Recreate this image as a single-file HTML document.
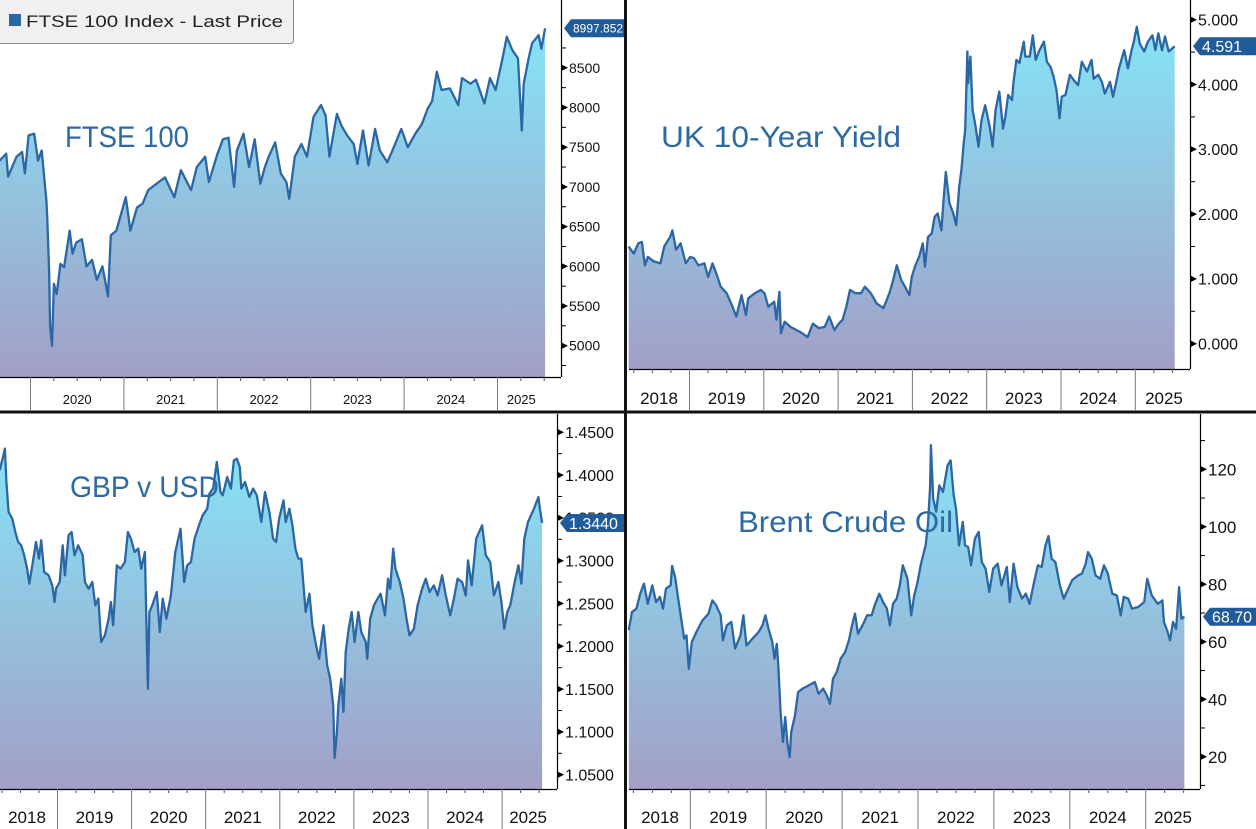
<!DOCTYPE html>
<html><head><meta charset="utf-8"><style>
html,body{margin:0;padding:0;background:#fff;}
svg{display:block;font-family:"Liberation Sans",sans-serif;}
</style></head><body>
<svg id="c" width="1256" height="829" viewBox="0 0 1256 829" xmlns="http://www.w3.org/2000/svg">
<defs>
<linearGradient id="g" x1="0" y1="0" x2="0" y2="1"><stop offset="0" stop-color="#86e4f6"/><stop offset="1" stop-color="#a29fc7"/></linearGradient>
</defs>
</svg>
<script>
// FTSE 100
const ftseDates=[2019.67,2019.74,2019.76,2019.85,2019.91,2019.94,2019.98,2020.04,2020.08,2020.12,2020.15,2020.17,2020.18,2020.20,2020.21,2020.23,2020.25,2020.28,2020.32,2020.36,2020.42,2020.45,2020.49,2020.55,2020.60,2020.66,2020.71,2020.77,2020.81,2020.83,2020.86,2020.92,2020.96,2021.02,2021.07,2021.14,2021.20,2021.26,2021.35,2021.44,2021.54,2021.61,2021.72,2021.78,2021.87,2021.91,2022.00,2022.06,2022.12,2022.18,2022.21,2022.28,2022.34,2022.40,2022.46,2022.51,2022.55,2022.62,2022.68,2022.74,2022.77,2022.83,2022.90,2022.96,2023.03,2023.11,2023.16,2023.20,2023.28,2023.33,2023.39,2023.46,2023.50,2023.56,2023.62,2023.69,2023.74,2023.82,2023.89,2023.97,2024.04,2024.12,2024.19,2024.25,2024.30,2024.35,2024.40,2024.49,2024.58,2024.62,2024.71,2024.77,2024.86,2024.92,2024.98,2025.05,2025.10,2025.16,2025.22,2025.26,2025.28,2025.33,2025.37,2025.44,2025.47,2025.51];
const ftseValues=[7330,7420,7130,7380,7440,7170,7650,7670,7330,7460,7080,6830,6600,5900,5240,5000,5780,5650,6030,5990,6450,6160,6300,6340,6000,6080,5830,6000,5750,5620,6390,6450,6620,6870,6450,6740,6790,6960,7040,7120,6870,7210,6960,7250,7380,7060,7410,7600,7620,7000,7460,7670,7250,7600,7040,7250,7380,7560,7170,7060,6850,7380,7540,7380,7880,8030,7900,7380,7920,7770,7650,7540,7290,7710,7270,7730,7460,7310,7500,7730,7500,7670,7790,7980,8080,8450,8220,8240,8030,8370,8300,8350,8050,8370,8220,8600,8890,8720,8620,7710,8300,8600,8810,8910,8740,8998];
const ftseTicks=[5000,5500,6000,6500,7000,7500,8000,8500];
const ftseYears=[2020,2021,2022,2023,2024,2025];

// UK 10-year yield
const giltDates=[2018.18,2018.25,2018.31,2018.36,2018.40,2018.44,2018.52,2018.61,2018.66,2018.74,2018.77,2018.82,2018.88,2018.95,2019.01,2019.06,2019.12,2019.20,2019.25,2019.31,2019.36,2019.42,2019.50,2019.58,2019.63,2019.70,2019.76,2019.79,2019.88,2019.96,2020.01,2020.06,2020.14,2020.17,2020.21,2020.23,2020.28,2020.36,2020.44,2020.52,2020.59,2020.66,2020.74,2020.82,2020.88,2020.95,2021.01,2021.06,2021.11,2021.16,2021.23,2021.31,2021.36,2021.44,2021.52,2021.61,2021.69,2021.74,2021.79,2021.85,2021.90,2021.96,2021.99,2022.04,2022.09,2022.14,2022.17,2022.21,2022.26,2022.30,2022.34,2022.39,2022.42,2022.45,2022.50,2022.55,2022.59,2022.63,2022.66,2022.69,2022.71,2022.74,2022.75,2022.78,2022.81,2022.85,2022.89,2022.93,2022.98,2023.04,2023.08,2023.12,2023.17,2023.22,2023.25,2023.29,2023.34,2023.36,2023.40,2023.44,2023.50,2023.52,2023.58,2023.62,2023.66,2023.71,2023.77,2023.81,2023.86,2023.90,2023.94,2023.98,2024.01,2024.06,2024.12,2024.17,2024.23,2024.28,2024.35,2024.41,2024.44,2024.50,2024.55,2024.59,2024.66,2024.70,2024.74,2024.78,2024.85,2024.90,2024.95,2024.98,2025.02,2025.06,2025.12,2025.17,2025.23,2025.27,2025.31,2025.36,2025.40,2025.45,2025.50,2025.53];
const giltValues=[1.50,1.39,1.55,1.57,1.21,1.34,1.27,1.24,1.50,1.65,1.75,1.45,1.55,1.24,1.34,1.32,1.21,1.24,1.03,1.24,1.09,0.88,0.78,0.57,0.42,0.75,0.44,0.70,0.78,0.83,0.78,0.57,0.65,0.37,0.80,0.16,0.34,0.26,0.21,0.16,0.10,0.31,0.24,0.26,0.42,0.21,0.31,0.37,0.57,0.83,0.78,0.78,0.88,0.78,0.62,0.55,0.78,0.98,1.21,0.98,0.88,0.75,1.03,1.21,1.34,1.55,1.19,1.65,1.70,1.96,2.01,1.75,2.22,2.65,2.17,2.01,1.83,2.42,2.68,3.09,3.30,4.51,4.02,4.43,3.61,3.35,3.04,3.45,3.68,3.35,3.04,3.61,3.89,3.32,3.50,3.84,3.76,4.02,4.38,4.33,4.66,4.43,4.43,4.76,4.38,4.53,4.66,4.35,4.27,4.12,3.91,3.48,3.81,3.84,4.15,4.07,3.99,4.35,4.20,4.38,4.09,4.15,4.04,3.86,4.04,3.81,4.02,4.25,4.53,4.25,4.53,4.66,4.89,4.63,4.51,4.66,4.76,4.53,4.79,4.53,4.74,4.51,4.56,4.59];
const giltTicks=[0,1,2,3,4,5];
const giltYears=[2018,2019,2020,2021,2022,2023,2024,2025];

// GBP v USD
const gbpDates=[2018.22,2018.27,2018.29,2018.31,2018.34,2018.39,2018.43,2018.47,2018.51,2018.55,2018.59,2018.62,2018.66,2018.71,2018.75,2018.78,2018.82,2018.88,2018.93,2018.96,2018.98,2019.03,2019.07,2019.10,2019.15,2019.19,2019.23,2019.28,2019.34,2019.37,2019.42,2019.47,2019.51,2019.55,2019.59,2019.64,2019.69,2019.72,2019.75,2019.80,2019.85,2019.91,2019.95,2019.99,2020.04,2020.09,2020.13,2020.18,2020.20,2020.22,2020.24,2020.28,2020.34,2020.38,2020.42,2020.47,2020.53,2020.59,2020.66,2020.71,2020.75,2020.80,2020.85,2020.91,2020.96,2021.02,2021.05,2021.10,2021.15,2021.20,2021.23,2021.29,2021.34,2021.38,2021.42,2021.46,2021.48,2021.53,2021.59,2021.64,2021.69,2021.75,2021.80,2021.86,2021.91,2021.95,2021.99,2022.05,2022.08,2022.13,2022.17,2022.21,2022.25,2022.29,2022.32,2022.35,2022.40,2022.44,2022.49,2022.53,2022.59,2022.64,2022.68,2022.72,2022.74,2022.77,2022.79,2022.83,2022.86,2022.89,2022.93,2022.97,2023.01,2023.06,2023.10,2023.16,2023.18,2023.22,2023.27,2023.32,2023.36,2023.42,2023.46,2023.49,2023.53,2023.56,2023.62,2023.67,2023.71,2023.75,2023.81,2023.86,2023.92,2023.97,2024.02,2024.08,2024.13,2024.19,2024.24,2024.30,2024.35,2024.40,2024.46,2024.51,2024.54,2024.59,2024.65,2024.73,2024.78,2024.84,2024.89,2024.95,2024.99,2025.03,2025.07,2025.11,2025.16,2025.22,2025.26,2025.30,2025.35,2025.39,2025.43,2025.49,2025.51,2025.54];
const gbpValues=[1.4056,1.4231,1.4309,1.3920,1.3569,1.3491,1.3335,1.3219,1.3180,1.3063,1.2907,1.2732,1.2946,1.3219,1.3024,1.3238,1.2868,1.2829,1.2712,1.2518,1.2673,1.2751,1.3180,1.2829,1.3297,1.3335,1.3063,1.3180,1.3063,1.2751,1.2673,1.2751,1.2479,1.2557,1.2050,1.2128,1.2323,1.2518,1.2245,1.2946,1.2907,1.2985,1.3335,1.3258,1.3102,1.3141,1.2907,1.3102,1.2284,1.1505,1.2401,1.2479,1.2634,1.2167,1.2557,1.2323,1.2595,1.3102,1.3374,1.2751,1.2946,1.2985,1.3258,1.3413,1.3530,1.3608,1.3783,1.3842,1.4153,1.3803,1.3764,1.3978,1.3842,1.4173,1.4192,1.4095,1.3842,1.3920,1.3744,1.3842,1.3764,1.3452,1.3803,1.3569,1.3258,1.3219,1.3491,1.3705,1.3452,1.3608,1.3413,1.3141,1.3024,1.3024,1.2712,1.2401,1.2615,1.2245,1.2011,1.1855,1.2245,1.1777,1.1622,1.1310,1.0695,1.0999,1.1310,1.1622,1.1232,1.1933,1.2206,1.2401,1.2050,1.2401,1.2167,1.2050,1.1855,1.2323,1.2479,1.2557,1.2615,1.2362,1.2790,1.2673,1.3141,1.2907,1.2751,1.2557,1.2323,1.2128,1.2206,1.2479,1.2673,1.2790,1.2634,1.2712,1.2595,1.2829,1.2595,1.2362,1.2557,1.2790,1.2751,1.2595,1.3004,1.2712,1.3258,1.3413,1.3063,1.2985,1.2595,1.2751,1.2518,1.2206,1.2401,1.2479,1.2712,1.2946,1.2732,1.3258,1.3452,1.3530,1.3608,1.3744,1.3608,1.3440];
const gbpTicks=[1.05,1.10,1.15,1.20,1.25,1.30,1.35,1.40,1.45];
const gbpYears=[2018,2019,2020,2021,2022,2023,2024,2025];

// Brent crude
const brentDates=[2018.19,2018.23,2018.29,2018.34,2018.39,2018.44,2018.50,2018.55,2018.60,2018.64,2018.68,2018.74,2018.76,2018.80,2018.84,2018.88,2018.92,2018.95,2018.98,2019.02,2019.08,2019.16,2019.24,2019.29,2019.34,2019.40,2019.43,2019.48,2019.54,2019.59,2019.66,2019.70,2019.74,2019.82,2019.90,2019.95,2019.99,2020.03,2020.08,2020.11,2020.14,2020.16,2020.19,2020.22,2020.25,2020.28,2020.31,2020.33,2020.38,2020.42,2020.48,2020.56,2020.64,2020.69,2020.75,2020.80,2020.84,2020.88,2020.93,2020.98,2021.04,2021.09,2021.13,2021.17,2021.21,2021.28,2021.33,2021.39,2021.43,2021.49,2021.54,2021.59,2021.63,2021.67,2021.72,2021.76,2021.80,2021.86,2021.91,2021.95,2021.99,2022.04,2022.10,2022.13,2022.16,2022.17,2022.20,2022.24,2022.28,2022.33,2022.39,2022.43,2022.47,2022.50,2022.54,2022.59,2022.62,2022.66,2022.70,2022.75,2022.80,2022.84,2022.89,2022.94,2022.99,2023.05,2023.10,2023.17,2023.21,2023.26,2023.31,2023.37,2023.42,2023.47,2023.52,2023.58,2023.63,2023.68,2023.72,2023.76,2023.81,2023.87,2023.92,2023.97,2024.03,2024.11,2024.16,2024.21,2024.24,2024.29,2024.34,2024.40,2024.45,2024.50,2024.56,2024.62,2024.67,2024.71,2024.77,2024.82,2024.90,2024.98,2025.02,2025.08,2025.16,2025.22,2025.24,2025.29,2025.32,2025.36,2025.40,2025.44,2025.47,2025.51];
const brentValues=[64.0,70.3,71.5,76.7,80.2,73.2,79.6,73.8,75.6,71.5,78.5,79.6,86.4,82.5,75.0,68.0,61.1,62.2,50.6,59.9,63.4,67.4,69.8,74.4,72.7,69.2,60.5,65.7,66.9,57.6,62.2,69.2,58.7,61.1,63.4,65.7,69.2,64.5,59.9,54.1,59.3,51.8,35.5,25.1,33.8,24.5,19.9,28.6,34.4,42.5,43.7,44.8,46.0,41.9,43.7,41.3,38.4,47.1,49.5,54.1,56.4,60.5,65.7,69.8,62.8,66.3,69.2,69.2,72.7,76.7,73.8,71.5,65.7,73.2,75.0,79.6,86.6,82.0,69.2,76.1,80.2,87.2,93.5,100.5,113.9,128.4,109.8,105.2,114.4,112.1,121.4,123.1,111.0,106.3,93.5,101.7,93.5,93.0,86.6,95.9,98.2,87.7,85.4,77.3,85.4,87.2,79.6,86.0,73.8,87.2,79.0,75.0,76.7,73.2,79.6,86.6,86.0,93.5,96.8,88.9,87.7,79.6,75.0,77.9,81.4,83.1,83.7,87.2,91.2,88.9,83.1,81.9,86.6,83.7,76.7,76.1,69.2,75.6,75.0,71.5,72.1,73.8,81.9,76.1,73.2,74.4,66.9,63.4,60.5,66.9,64.5,79.0,68.0,68.7];
const brentTicks=[20,40,60,80,100,120];
const brentYears=[2018,2019,2020,2021,2022,2023,2024,2025];

const svg=document.getElementById('c');
const NS='http://www.w3.org/2000/svg';
function mk(tag,attrs,parent){const e=document.createElementNS(NS,tag);for(const k in attrs)e.setAttribute(k,attrs[k]);(parent||svg).appendChild(e);return e;}

function panel(cfg,dates,values,ticks,years){
  const g=mk('g',{});
  
  
  const X=y=>cfg.x0+(y-cfg.yr0)*cfg.yw;
  const Y=v=>cfg.vy0+(cfg.v0-v)*cfg.vk;
  let d='';
  for(let i=0;i<dates.length;i++){d+=(i?'L':'M')+X(dates[i]).toFixed(1)+' '+Y(values[i]).toFixed(1);}
  const area=mk('path',{d:d+'L'+X(dates[dates.length-1]).toFixed(1)+' '+cfg.bot+'L'+X(dates[0]).toFixed(1)+' '+cfg.bot+'Z',fill:'url(#g)'},g);
  
  
  const line=mk('path',{d:d,fill:'none',stroke:'#2b66a5','stroke-width':2.3,'stroke-linejoin':'round'},g);
  
  
  mk('line',{x1:cfg.left,x2:cfg.ax,y1:cfg.bot+0.5,y2:cfg.bot+0.5,stroke:'#000','stroke-width':1.2},g);
  mk('line',{x1:cfg.ax+0.5,x2:cfg.ax+0.5,y1:cfg.top,y2:cfg.bot,stroke:'#000','stroke-width':1.2},g);
  const step=ticks[1]-ticks[0];
  for(let i=0;i<ticks.length;i++){
    const ty=Y(ticks[i]);
    mk('path',{d:`M${cfg.ax+1} ${ty-3}L${cfg.ax+7} ${ty}L${cfg.ax+1} ${ty+3}Z`,fill:'#000'},g);
    const t=mk('text',{x:cfg.ax+8,y:ty+cfg.fs*0.36,'font-size':cfg.fs,fill:'#111'},g);
    t.textContent=ticks[i].toFixed(cfg.dec);
    
    
  }
  for(let v=ticks[0]-step/2;v<=ticks[ticks.length-1]+step;v+=step){
    const ty=Y(v); if(ty<cfg.top+2||ty>cfg.bot-2)continue;
    mk('line',{x1:cfg.ax,x2:cfg.ax+5,y1:ty,y2:ty,stroke:'#000','stroke-width':1},g);
  }
  for(let i=0;i<years.length;i++){
    const xs=X(years[i]), xe=X(years[i]+1);
    if(xs>cfg.left+2) mk('line',{x1:xs,x2:xs,y1:cfg.bot,y2:cfg.band,stroke:'#777','stroke-width':1},g);
    for(let q=1;q<4;q++){const xq=X(years[i]+q/4);if(xq>cfg.left&&xq<cfg.ax)mk('line',{x1:xq,x2:xq,y1:cfg.bot,y2:cfg.bot+4,stroke:'#555'},g);}
    let lx=(xs+Math.min(xe,cfg.ax))/2;
    if(i===years.length-1) lx=(xs+X(dates[dates.length-1]))/2+cfg.lastShift;
    if(i===0 && xs<cfg.left) lx=cfg.firstX;
    const t=mk('text',{x:lx,y:cfg.band-6,'font-size':cfg.yfs,'text-anchor':'middle',fill:'#111'},g);
    t.textContent=years[i];
    
    
  }
  const tt=mk('text',{x:cfg.tx,y:cfg.ty,'font-size':30,fill:'#2d6aa4',textLength:cfg.tl,lengthAdjust:'spacingAndGlyphs'},g);
  tt.textContent=cfg.title;
  
  
  const lv=values[values.length-1], ly=Y(lv), bx=cfg.ax+3;
  const tag=mk('path',{d:`M${bx} ${ly}L${bx+7} ${ly-9}L${cfg.tagR} ${ly-9}L${cfg.tagR} ${ly+9}L${bx+7} ${ly+9}Z`,fill:'#1f5c99'},g);
  
  
  const tv=mk('text',{x:bx+9,y:ly+cfg.vfs*0.36,'font-size':cfg.vfs,fill:'#fff'},g);
  tv.textContent=cfg.lastLabel;
  
  
}

panel({name:'ftse',left:0,top:0,bot:377,band:410,ax:561,x0:30.5,yr0:2020,yw:93.4,v0:5000,vy0:345.7,vk:39.7/500,fs:14,dec:0,yfs:13,lastShift:0,firstX:0,title:'FTSE 100',tx:65,ty:147,tl:124,tagR:626,vfs:12,lastLabel:'8997.852'},ftseDates,ftseValues,ftseTicks,ftseYears);
panel({name:'gilt',left:629,top:0,bot:369,band:410,ax:1190,x0:689.5,yr0:2019,yw:74.3,v0:0,vy0:343.7,vk:64.8,fs:16,dec:3,yfs:17,lastShift:9,firstX:659,title:'UK 10-Year Yield',tx:661,ty:147,tl:240,tagR:1256,vfs:16,lastLabel:'4.591'},giltDates,giltValues,giltTicks,giltYears);
panel({name:'gbp',left:0,top:414,bot:789,band:829,ax:557,x0:57.5,yr0:2019,yw:74.1,v0:1.45,vy0:432.3,vk:856,fs:16,dec:4,yfs:17,lastShift:6,firstX:27,title:'GBP v USD',tx:70,ty:497,tl:149,tagR:626,vfs:16,lastLabel:'1.3440'},gbpDates,gbpValues,gbpTicks,gbpYears);
panel({name:'brent',left:629,top:414,bot:789,band:829,ax:1200,x0:690.3,yr0:2019,yw:75.9,v0:120,vy0:469.3,vk:2.874,fs:17,dec:0,yfs:17,lastShift:8,firstX:660,title:'Brent Crude Oil',tx:738,ty:532,tl:215,tagR:1256,vfs:16,lastLabel:'68.70'},brentDates,brentValues,brentTicks,brentYears);

const dv=mk('rect',{x:624,y:0,width:3,height:829,fill:'#111'});


const dh=mk('rect',{x:0,y:410.5,width:1256,height:3,fill:'#111'});



const lg=mk('g',{});


mk('path',{d:'M-1 -1H293.5V40Q293.5 43.5 290 43.5H-1Z',fill:'#f0f0f0',stroke:'#8a8a8a','stroke-width':1},lg);
mk('rect',{x:9,y:14,width:12,height:12,fill:'#2b66a5'},lg);
const lt=mk('text',{x:26,y:27,'font-size':17,fill:'#222',textLength:257,lengthAdjust:'spacingAndGlyphs'},lg);
lt.textContent='FTSE 100 Index - Last Price';


</script>
</body></html>
